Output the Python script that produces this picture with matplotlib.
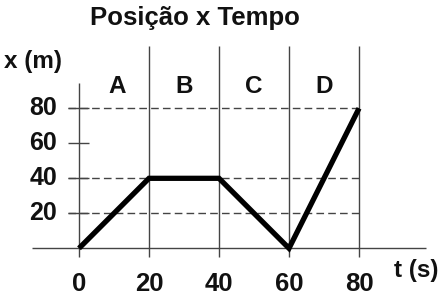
import matplotlib
matplotlib.use("Agg")
import matplotlib.pyplot as plt

# --- data ---
tempo = [0, 20, 40, 60, 80]          # t (s)
posicao = [0, 40, 40, 0, 80]         # x (m)
x_ticks = [0, 20, 40, 60, 80]
y_ticks = [20, 40, 60, 80]
dashed_levels = [20, 40, 80]
regioes = ["A", "B", "C", "D"]
regioes_t = [11, 30, 50, 70]

plt.rcParams['font.family'] = ['Liberation Sans', 'DejaVu Sans']
plt.rcParams['font.weight'] = 'bold'

fig = plt.figure(figsize=(4.42, 2.98), dpi=100)
ax = fig.add_axes([0, 0, 1, 1])
ax.set_xlim(-22.57, 103.71)
ax.set_ylim(-28.4, 141.9)
ax.axis('off')

grey = '#444444'
txt = '#111111'

# grid-ish lines
for t in x_ticks[1:]:
    ax.vlines(t, -4.8, 115.5, color=grey, lw=1.0)
ax.vlines(0, -4.8, 94.5, color=grey, lw=1.0)          # x (m) axis
ax.hlines(0, -13.5, 99, color=grey, lw=1.0)           # t (s) axis
for y in y_ticks:
    ax.hlines(y, -3, 3, color=grey, lw=1.0)
for y in dashed_levels:
    ax.hlines(y, -3, 80, color=grey, lw=1.0, linestyles=(0, (5.5, 3)))

# the movement
ax.plot(tempo, posicao, color='black', lw=3.8, solid_joinstyle='miter',
        solid_capstyle='butt', zorder=5)

# labels
for t in x_ticks:
    ax.text(t, -20.2, str(t), ha='center', va='center', fontsize=18.5,
            color=txt, fontweight='bold')
for y in y_ticks:
    ax.text(-6.3, y, str(y), ha='right', va='center', fontsize=18,
            color=txt, fontweight='bold')
for r, t in zip(regioes, regioes_t):
    ax.text(t, 92.2, r, ha='center', va='center', fontsize=17.5,
            color=txt, fontweight='bold')

ax.text(-13.1, 107, 'x (m)', ha='center', va='center', fontsize=17.5,
        color=txt, fontweight='bold')
ax.text(96.3, -12.4, 't (s)', ha='center', va='center', fontsize=17.5,
        color=txt, fontweight='bold')
ax.text(33.1, 131.6, 'Posição x Tempo', ha='center', va='center',
        fontsize=18.5, color=txt, fontweight='bold')

fig.savefig('out.png', dpi=100)
